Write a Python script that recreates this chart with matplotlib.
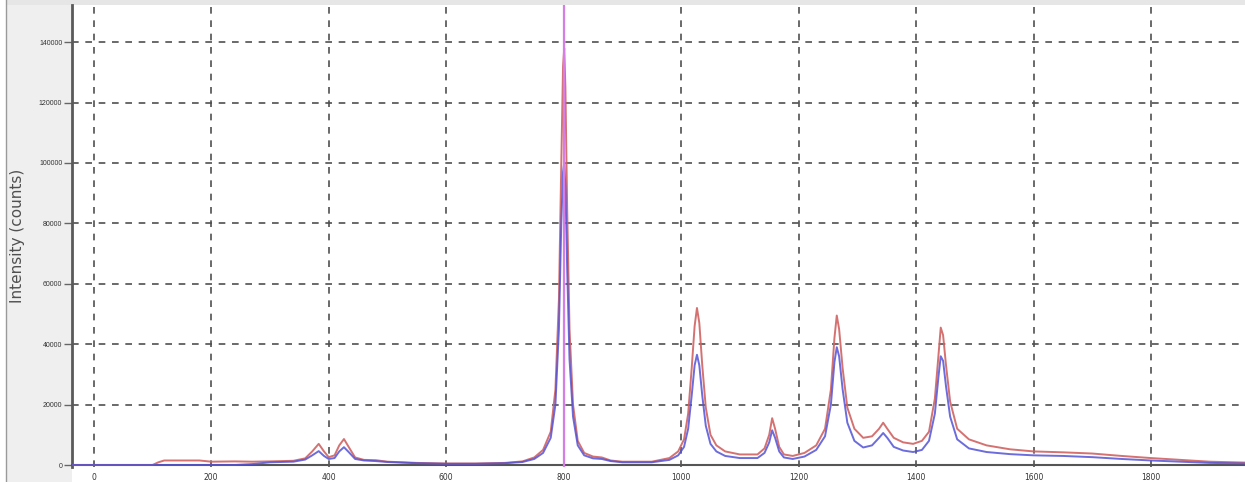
import matplotlib.pyplot as plt
from matplotlib.patches import Rectangle
from matplotlib.lines import Line2D

# Raman shift positions (shared by both spectra)
shift = [-37, 100, 110, 120, 180, 200, 240, 270, 300, 340,
         360, 372, 383, 392, 400, 410, 418, 426, 434, 445,
         460, 480, 500, 550, 600, 650, 700, 730, 750, 765,
         778, 786, 792, 796, 799, 801, 803, 806, 810, 816,
         824, 835, 850, 865, 880, 900, 950, 980, 995, 1005,
         1012, 1018, 1023, 1027, 1031, 1036, 1042, 1050, 1060, 1075,
         1100, 1130, 1142, 1150, 1155, 1160, 1167, 1175, 1190, 1210,
         1230, 1245, 1255, 1261, 1265, 1269, 1275, 1283, 1295, 1310,
         1325, 1337, 1344, 1351, 1362, 1378, 1395, 1410, 1422, 1432,
         1438, 1442, 1446, 1451, 1458, 1470, 1490, 1520, 1560, 1600,
         1650, 1700, 1750, 1800, 1850, 1900, 1960]

red_counts = [0, 0, 900, 1500, 1500, 1100, 1200, 1100, 1200, 1400,
              2200, 4500, 7000, 4500, 2600, 3200, 6500, 8600, 6000, 2500,
              1700, 1600, 1100, 700, 500, 500, 700, 1200, 2500, 5000,
              11000, 25000, 55000, 100000, 132000, 138000, 125000, 85000, 45000, 20000,
              8000, 4000, 2800, 2500, 1500, 1100, 1100, 2300, 4500, 8500,
              17000, 32000, 46000, 52000, 47000, 33000, 19000, 10000, 6500, 4500,
              3500, 3500, 5500, 10000, 15500, 12000, 6000, 3500, 3000, 4000,
              6500, 12000, 25000, 42000, 49500, 45000, 32000, 19000, 12000, 9000,
              9500, 12000, 14000, 12000, 9000, 7500, 7000, 8000, 11000, 22000,
              36000, 45500, 43000, 33000, 21000, 12000, 8500, 6500, 5200, 4500,
              4200, 3800, 3000, 2300, 1700, 1100, 800]

blue_counts = [0, 0, 0, 0, 0, 0, 0, 300, 900, 1100,
               1800, 3200, 4600, 3000, 2000, 2300, 4500, 5900, 4300, 2000,
               1500, 1300, 1000, 600, 400, 400, 600, 1000, 2000, 4000,
               9000, 20000, 45000, 80000, 97000, 100000, 92000, 65000, 35000, 16000,
               6500, 3200, 2200, 2000, 1300, 900, 900, 1700, 3200, 6000,
               12000, 23000, 33000, 36500, 33000, 23000, 13000, 7000, 4500, 3000,
               2300, 2300, 4000, 7500, 11500, 9000, 4500, 2500, 2000, 2800,
               5000, 9500, 20000, 34000, 39000, 36000, 25000, 14000, 8000, 5800,
               6500, 9000, 10600, 9000, 6000, 4800, 4300, 5000, 8000, 17000,
               29000, 36000, 34500, 26000, 16000, 8500, 5500, 4300, 3600, 3200,
               3000, 2600, 2000, 1500, 1100, 700, 500]

cursor_x = 800
x_ticks = [0, 200, 400, 600, 800, 1000, 1200, 1400, 1600, 1800]
y_ticks = [0, 20000, 40000, 60000, 80000, 100000, 120000, 140000]

fig = plt.figure(figsize=(12.45, 4.82), dpi=100)

# grey side panel and top strip like the original software window
fig.patches.append(Rectangle((6 / 1245, 0), 66 / 1245, 1, transform=fig.transFigure,
                             facecolor='#efefef', edgecolor='none', zorder=-2))
fig.lines.append(Line2D([6 / 1245, 6 / 1245], [0, 1], transform=fig.transFigure,
                        color='#9a9a9a', lw=1.0, zorder=-1))
fig.patches.append(Rectangle((6 / 1245, 1 - 5 / 482), 1, 5 / 482, transform=fig.transFigure,
                             facecolor='#e6e6e6', edgecolor='none', zorder=-2))

ax = fig.add_axes([72 / 1245, 15 / 482, 1 - 72 / 1245, 1 - 20 / 482])
ax.set_xlim(-37, 1960)
ax.set_ylim(-660, 152300)

ax.plot(shift, red_counts, color='#d06262', lw=1.4, alpha=0.9, zorder=3)
ax.plot(shift, blue_counts, color='#5252d6', lw=1.4, alpha=0.85, zorder=4)
ax.axvline(cursor_x, color='#d77ee6', lw=1.6, zorder=5)

ax.set_xticks(x_ticks)
ax.set_yticks(y_ticks)
ax.grid(True, color='#505050', ls=(0, (4, 4)), lw=1.2, zorder=1)
ax.set_axisbelow(True)

ax.tick_params(axis='y', direction='out', length=6, width=1, color='#666666',
               labelsize=5, labelcolor='#333333', pad=1)
ax.tick_params(axis='x', length=0, labelsize=5.5, labelcolor='#333333', pad=6)
for lab in ax.get_yticklabels() + ax.get_xticklabels():
    lab.set_family('Liberation Sans')

ax.set_ylabel('Intensity (counts)', fontsize=11, color='#505050')
ax.yaxis.set_label_coords(-47 / 1173, 0.5)

for side in ['top', 'right']:
    ax.spines[side].set_visible(False)
ax.spines['left'].set_color('#5a5a5a')
ax.spines['left'].set_linewidth(2)
ax.spines['bottom'].set_color('#555555')
ax.spines['bottom'].set_linewidth(1.5)
ax.spines['bottom'].set_position(('data', 0))

fig.savefig('out.png', dpi=100)
